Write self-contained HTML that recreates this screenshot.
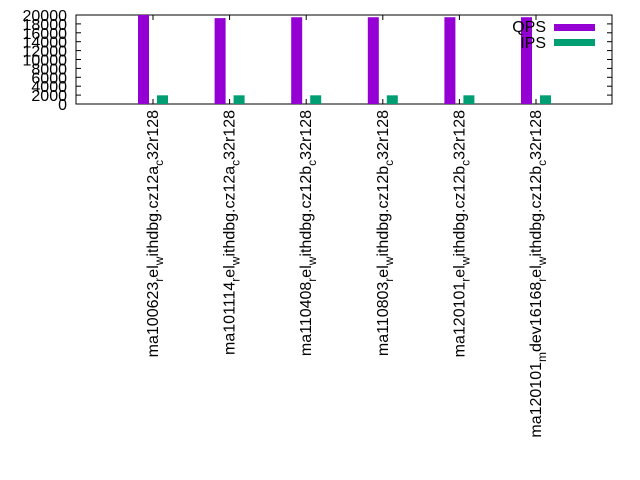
<!DOCTYPE html>
<html><head><meta charset="utf-8"><style>
body{margin:0;background:#fff}
svg{display:block;font-family:"Liberation Sans",sans-serif}
</style></head><body>
<svg id="c" width="640" height="480">
<rect x="76" y="15" width="536" height="89" fill="none" stroke="#000" stroke-width="1"/>
<g id="yaxis"></g>
<g id="xaxis"></g>
<g id="bars"></g>
<g>
<text x="546" y="32" font-size="16" text-anchor="end">QPS</text>
<rect x="554" y="24" width="41" height="7" fill="#9400d3"/>
<text x="546" y="48" font-size="16" text-anchor="end">IPS</text>
<rect x="554" y="39" width="41" height="7" fill="#009e73"/>
</g>
</svg>
<script>
const categories=[
 ["ma100623","r","el","w","ithdbg.cz12a","c","32r128"],
 ["ma101114","r","el","w","ithdbg.cz12a","c","32r128"],
 ["ma110408","r","el","w","ithdbg.cz12b","c","32r128"],
 ["ma110803","r","el","w","ithdbg.cz12b","c","32r128"],
 ["ma120101","r","el","w","ithdbg.cz12b","c","32r128"],
 ["ma120101","m","dev16168","r","el","w","ithdbg.cz12b","c","32r128"]
];
const qps=[20000,19300,19500,19500,19500,19500];
const ips=[1950,1950,1950,1950,1950,1950];
const yTicks=[0,2000,4000,6000,8000,10000,12000,14000,16000,18000,20000];
const NS="http://www.w3.org/2000/svg";
const y=v=>104-v/20000*89;
const x=i=>153+i*76.6;
function mk(t,a,p){const e=document.createElementNS(NS,t);for(const k in a)e.setAttribute(k,a[k]);p.appendChild(e);return e;}
const ya=document.getElementById('yaxis');
yTicks.forEach(v=>{
 const l=mk('line',{x1:76,x2:81,y1:y(v),y2:y(v),stroke:'#000'},ya);
 
 
 const l2=mk('line',{x1:607,x2:612,y1:y(v),y2:y(v),stroke:'#000'},ya);
 
 
 const t=mk('text',{x:67,y:y(v)+6,'font-size':16,'text-anchor':'end'},ya);
 t.textContent=v;
 
 
});
const xa=document.getElementById('xaxis');
categories.forEach((c,i)=>{
 const l=mk('line',{x1:x(i),x2:x(i),y1:104,y2:99,stroke:'#000'},xa);
 
 
 const l2=mk('line',{x1:x(i),x2:x(i),y1:15,y2:20,stroke:'#000'},xa);
 
 
 const t=mk('text',{'font-size':16,'text-anchor':'end',transform:`translate(${x(i)+5},110) rotate(-90)`},xa);
 
 
 c.forEach((s,k)=>{
  const ts=mk('tspan',{},t);
  if(k%2===1){ts.setAttribute('font-size','12');ts.setAttribute('dy','5');}
  else if(k>0){ts.setAttribute('dy','-5');}
  ts.textContent=s;
 });
});
const bg=document.getElementById('bars');
qps.forEach((v,i)=>{
 const r=mk('rect',{x:x(i)-15,y:y(v),width:11,height:104-y(v),fill:'#9400d3'},bg);
 
 
});
ips.forEach((v,i)=>{
 const r=mk('rect',{x:x(i)+4,y:y(v),width:11,height:104-y(v),fill:'#009e73'},bg);
 
 
});
</script>
</body></html>
